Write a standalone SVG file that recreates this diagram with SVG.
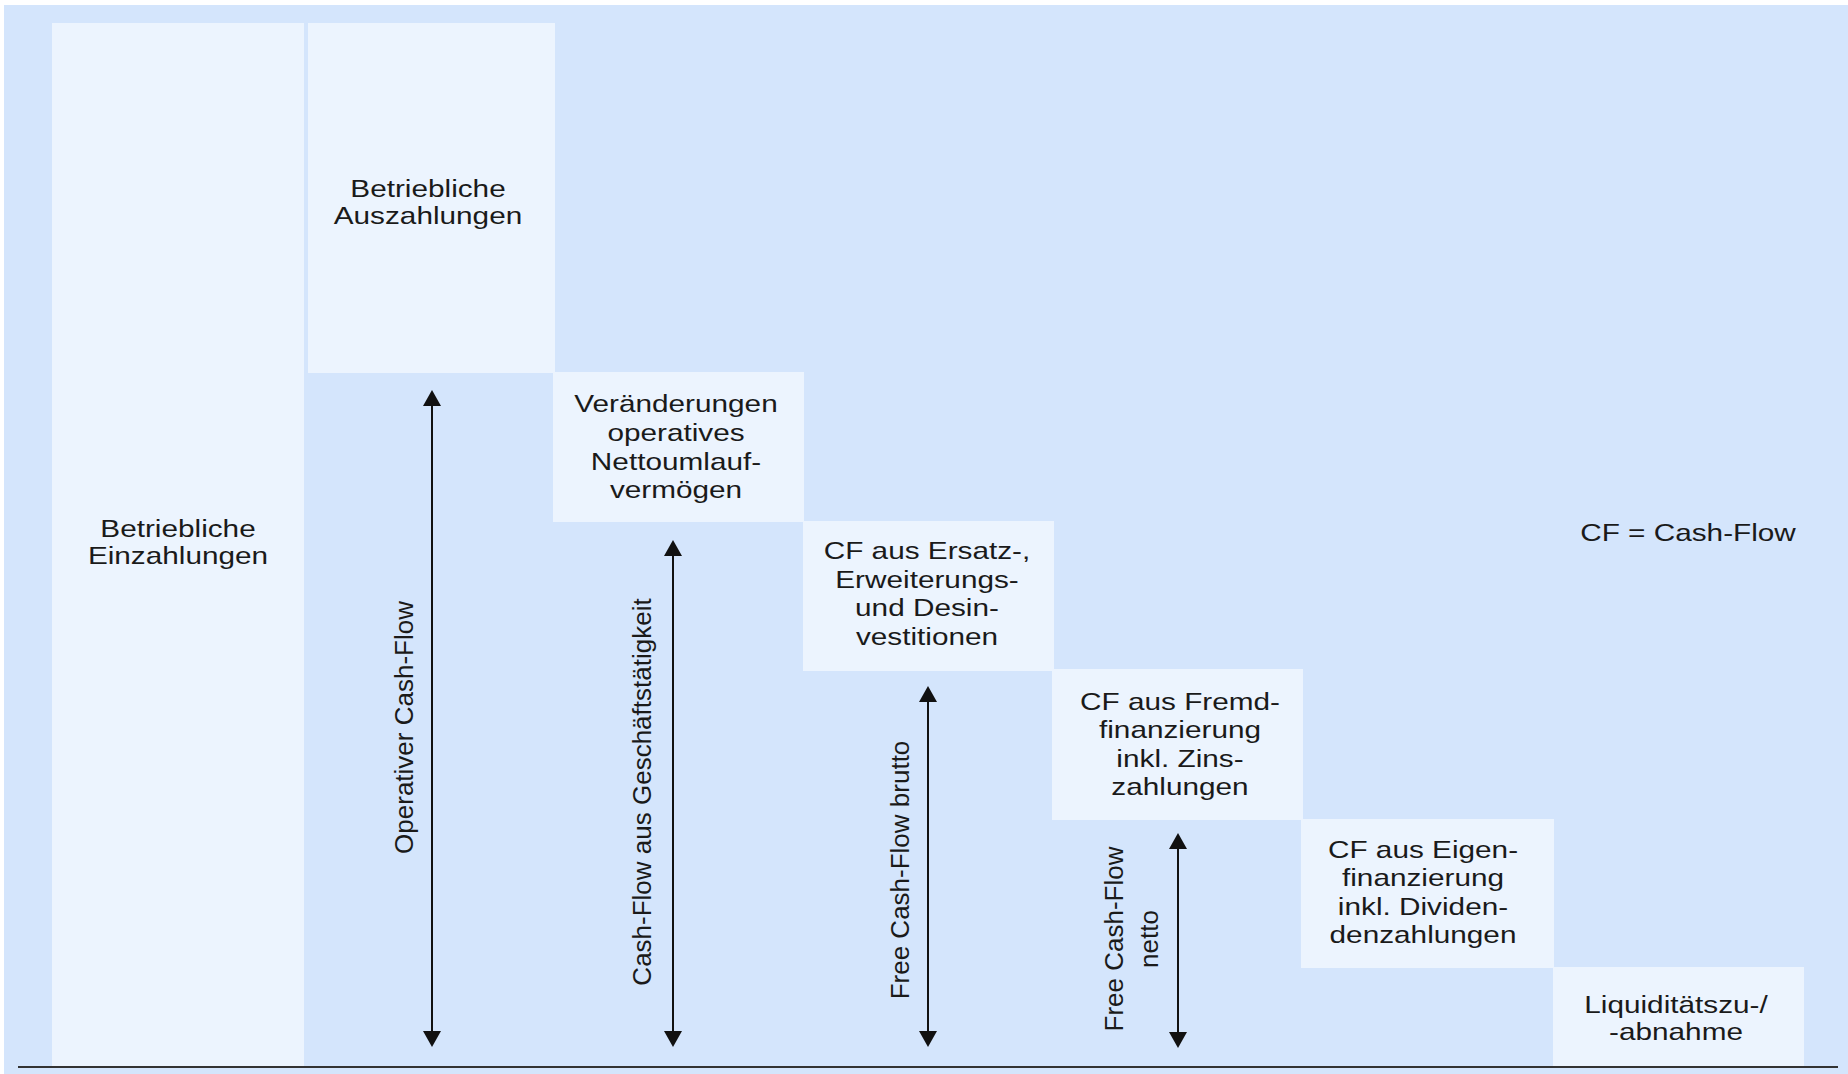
<svg xmlns="http://www.w3.org/2000/svg" width="1848" height="1074" viewBox="0 0 1848 1074">
  <style>
    .bg { fill: #D4E5FC; }
    .box { fill: #ECF4FE; }
    .t { font-family: "Liberation Sans", Arial, sans-serif; font-size: 24px; fill: #1a1a1a; text-anchor: middle; }
    .v { font-family: "Liberation Sans", Arial, sans-serif; font-size: 26px; fill: #1a1a1a; text-anchor: middle; }
    .arrow { stroke: #111; stroke-width: 2; fill: none; marker-start: url(#ah); marker-end: url(#ah); }
    .base { stroke: #333; stroke-width: 2.2; }
  </style>
  <defs>
    <marker id="ah" markerUnits="userSpaceOnUse" markerWidth="16" markerHeight="18" viewBox="0 0 16 18" refX="8" refY="9" orient="auto-start-reverse">
      <path d="M0,0 L16,9 L0,18 Z" fill="#111"/>
    </marker>
  </defs>

  <rect x="0" y="0" width="1848" height="1074" fill="#ffffff"/>
  <rect class="bg" x="4" y="5" width="1844" height="1069"/>

  <g id="node-einzahlungen">
    <rect class="box" x="52" y="23" width="252" height="1043"/>
    <text class="t" transform="translate(178,0) scale(1.24,1)"><tspan x="0" y="537">Betriebliche</tspan><tspan x="0" y="564">Einzahlungen</tspan></text>
  </g>

  <g id="node-auszahlungen">
    <rect class="box" x="308" y="23" width="247" height="350"/>
    <text class="t" transform="translate(428,0) scale(1.24,1)"><tspan x="0" y="197">Betriebliche</tspan><tspan x="0" y="224">Auszahlungen</tspan></text>
  </g>

  <g id="node-nettoumlauf">
    <rect class="box" x="553" y="372" width="251" height="150"/>
    <text class="t" transform="translate(676,0) scale(1.24,1)"><tspan x="0" y="412">Veränderungen</tspan><tspan x="0" y="441">operatives</tspan><tspan x="0" y="470">Nettoumlauf-</tspan><tspan x="0" y="498.5">vermögen</tspan></text>
  </g>

  <g id="node-investitionen">
    <rect class="box" x="803" y="521" width="251" height="150"/>
    <text class="t" transform="translate(927,0) scale(1.24,1)"><tspan x="0" y="559">CF aus Ersatz-,</tspan><tspan x="0" y="588">Erweiterungs-</tspan><tspan x="0" y="616.5">und Desin-</tspan><tspan x="0" y="645">vestitionen</tspan></text>
  </g>

  <g id="node-fremdfinanzierung">
    <rect class="box" x="1052" y="669" width="251" height="151"/>
    <text class="t" transform="translate(1180,0) scale(1.24,1)"><tspan x="0" y="710">CF aus Fremd-</tspan><tspan x="0" y="738.5">finanzierung</tspan><tspan x="0" y="767">inkl. Zins-</tspan><tspan x="0" y="795.5">zahlungen</tspan></text>
  </g>

  <g id="node-eigenfinanzierung">
    <rect class="box" x="1301" y="819" width="253" height="149"/>
    <text class="t" transform="translate(1423,0) scale(1.24,1)"><tspan x="0" y="858">CF aus Eigen-</tspan><tspan x="0" y="886.5">finanzierung</tspan><tspan x="0" y="915">inkl. Dividen-</tspan><tspan x="0" y="943.5">denzahlungen</tspan></text>
  </g>

  <g id="node-liquiditaet">
    <rect class="box" x="1553" y="967" width="251" height="99"/>
    <text class="t" transform="translate(1676,0) scale(1.24,1)"><tspan x="0" y="1013">Liquiditätszu-/</tspan><tspan x="0" y="1040">-abnahme</tspan></text>
  </g>

  <g id="legend">
    <text class="t" transform="translate(1688,0) scale(1.24,1)" x="0" y="541.5">CF = Cash-Flow</text>
  </g>

  <g id="connectors">
    <line class="arrow" x1="432" y1="398" x2="432" y2="1039"/>
    <line class="arrow" x1="673" y1="548" x2="673" y2="1039"/>
    <line class="arrow" x1="928" y1="694" x2="928" y2="1039"/>
    <line class="arrow" x1="1178" y1="841" x2="1178" y2="1040"/>
    <line class="base" x1="18" y1="1067" x2="1838" y2="1067"/>
  </g>

  <g id="arrow-labels">
    <text class="v" transform="translate(413,727.5) rotate(-90)" x="0" y="0">Operativer Cash-Flow</text>
    <text class="v" transform="translate(651,792) rotate(-90)" x="0" y="0">Cash-Flow aus Geschäftstätigkeit</text>
    <text class="v" transform="translate(909,870) rotate(-90)" x="0" y="0">Free Cash-Flow brutto</text>
    <text class="v" transform="translate(1123,939) rotate(-90)"><tspan x="0" y="0">Free Cash-Flow</tspan><tspan x="0" y="35">netto</tspan></text>
  </g>
</svg>
